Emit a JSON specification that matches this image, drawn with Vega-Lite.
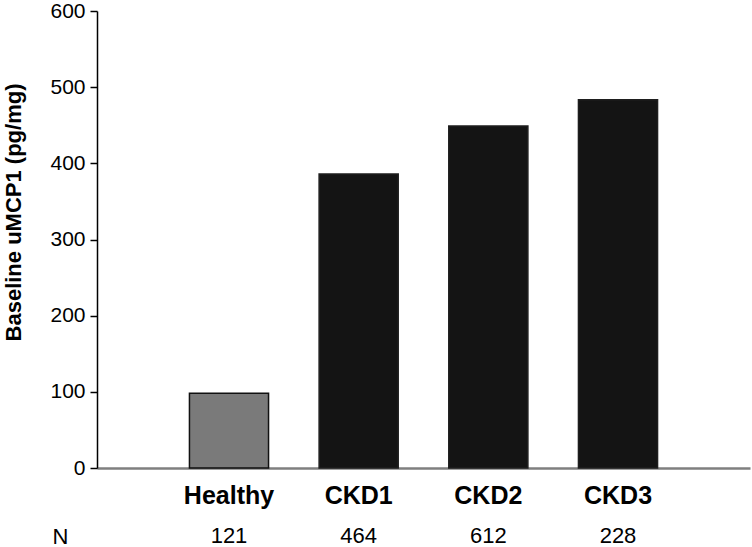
{
  "$schema": "https://vega.github.io/schema/vega-lite/v6.json",
  "width": 653,
  "height": 457,
  "autosize": {"type": "none"},
  "padding": {"left": 97, "top": 11, "right": 2, "bottom": 79},
  "background": "white",
  "config": {
    "view": {"stroke": null},
    "font": "Liberation Sans"
  },
  "datasets": {
    "groups": [
      {"group": "Healthy", "value": 98, "n": 121, "status": "Healthy"},
      {"group": "CKD1", "value": 386, "n": 464, "status": "CKD"},
      {"group": "CKD2", "value": 449, "n": 612, "status": "CKD"},
      {"group": "CKD3", "value": 483.5, "n": 228, "status": "CKD"}
    ]
  },
  "data": {"name": "groups"},
  "layer": [
    {
      "mark": {"type": "bar", "strokeWidth": 1.5},
      "encoding": {
        "x": {
          "field": "group",
          "type": "nominal",
          "sort": ["Healthy", "CKD1", "CKD2", "CKD3"],
          "scale": {"paddingInner": 0.39, "paddingOuter": 0.713, "align": 0.5},
          "axis": {
            "orient": "bottom",
            "title": null,
            "labelAngle": 0,
            "labelFont": "Liberation Sans",
            "labelFontSize": 25,
            "labelFontWeight": "bold",
            "labelColor": "black",
            "labelPadding": 15,
            "ticks": false,
            "domainColor": "#7f7f7f",
            "domainWidth": 2.5,
            "grid": false
          }
        },
        "y": {
          "field": "value",
          "type": "quantitative",
          "scale": {"domain": [0, 600], "nice": false},
          "axis": {
            "title": "Baseline uMCP1 (pg/mg)",
            "titleFont": "Liberation Sans",
            "titleFontSize": 22,
            "titleFontWeight": "bold",
            "titleColor": "black",
            "titleAngle": -90,
            "titleAlign": "center",
            "titleBaseline": "middle",
            "titleX": -84,
            "titleY": 201,
            "values": [0, 100, 200, 300, 400, 500, 600],
            "labelFont": "Liberation Sans",
            "labelFontSize": 21,
            "labelColor": "black",
            "labelPadding": 5,
            "tickSize": 7,
            "tickColor": "black",
            "tickWidth": 1.5,
            "domainColor": "black",
            "domainWidth": 1.5,
            "grid": false
          }
        },
        "color": {
          "field": "status",
          "type": "nominal",
          "scale": {"domain": ["Healthy", "CKD"], "range": ["#7a7a7a", "#141414"]},
          "legend": null
        },
        "stroke": {
          "field": "status",
          "type": "nominal",
          "scale": {"domain": ["Healthy", "CKD"], "range": ["#111111", "#1e1e1e"]},
          "legend": null
        }
      }
    },
    {
      "mark": {"type": "bar", "opacity": 0},
      "encoding": {
        "x": {
          "field": "group",
          "type": "nominal",
          "sort": ["Healthy", "CKD1", "CKD2", "CKD3"],
          "axis": {
            "orient": "bottom",
            "title": "N",
            "titleFont": "Liberation Sans",
            "titleFontSize": 22,
            "titleFontWeight": "normal",
            "titleColor": "black",
            "titleAngle": 0,
            "titleAlign": "center",
            "titleBaseline": "alphabetic",
            "titleX": -37,
            "titleY": 75,
            "labelExpr": "pluck(data('groups'), 'n')[indexof(pluck(data('groups'), 'group'), datum.value)]",
            "labelAngle": 0,
            "labelFont": "Liberation Sans",
            "labelFontSize": 22,
            "labelFontWeight": "normal",
            "labelColor": "black",
            "labelPadding": 57,
            "ticks": false,
            "domain": false,
            "grid": false
          }
        },
        "y": {"field": "value", "type": "quantitative"}
      }
    }
  ],
  "resolve": {"axis": {"x": "independent"}}
}
